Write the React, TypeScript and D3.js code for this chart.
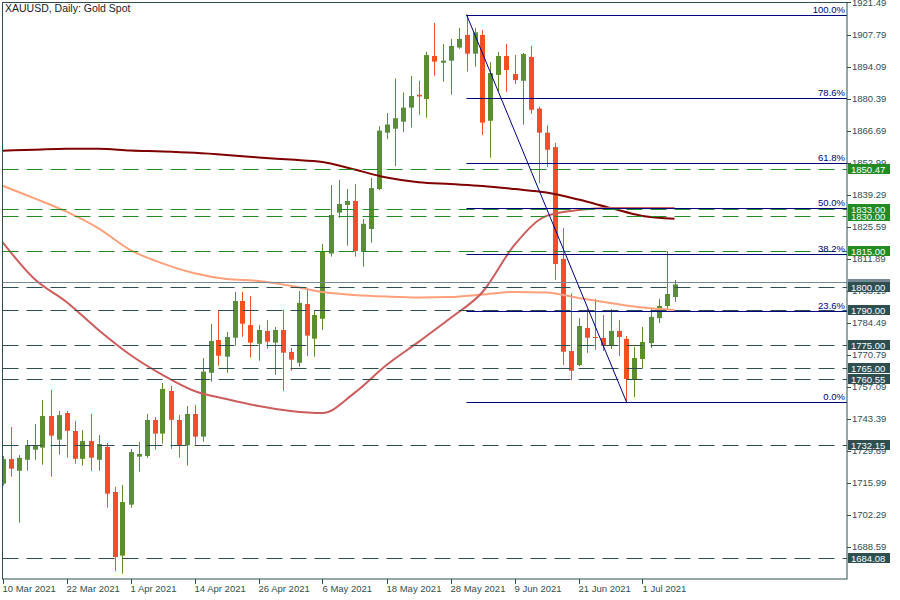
import React from "react";
import * as d3 from "d3";

const W = 900;
const H = 600;

// Date axis labels (bar index -> label)
const dateTickIdx = [0, 8, 16, 24, 32, 40, 48, 56, 64, 72, 80];
const dateTickLabels = [
  "10 Mar 2021", "22 Mar 2021", "1 Apr 2021", "14 Apr 2021", "26 Apr 2021",
  "6 May 2021", "18 May 2021", "28 May 2021", "9 Jun 2021", "21 Jun 2021", "1 Jul 2021",
];

// Daily OHLC, 10 Mar 2021 .. 7 Jul 2021
const opens = [
  1715.7, 1726.2, 1721.2, 1725.9, 1730.2, 1731.1, 1744.6, 1734.5, 1745.9, 1738.2,
  1726.3, 1733.9, 1725.9, 1731.4, 1712.1, 1684.9, 1706.7, 1727.2, 1727.5, 1742.9,
  1737.1, 1755.3, 1742.9, 1732.1, 1745.5, 1735.8, 1763.1, 1777.1, 1770.0, 1778.1,
  1793.8, 1783.5, 1775.5, 1781.0, 1776.0, 1781.4, 1772.0, 1767.4, 1792.5, 1777.7,
  1786.2, 1814.1, 1831.6, 1834.9, 1836.6, 1814.8, 1824.6, 1841.7, 1865.8, 1867.5,
  1870.5, 1876.5, 1882.0, 1880.2, 1898.6, 1895.7, 1896.6, 1902.2, 1907.6, 1899.6,
  1907.6, 1870.9, 1890.5, 1898.6, 1890.9, 1888.0, 1898.2, 1876.1, 1865.8, 1859.6,
  1811.8, 1772.4, 1766.4, 1782.3, 1778.4, 1778.0, 1774.6, 1781.0, 1777.6, 1760.4,
  1769.0, 1775.8, 1786.5, 1791.7, 1795.5,
];
const highs = [
  1727.5, 1739.9, 1727.9, 1734.4, 1741.2, 1751.5, 1755.7, 1746.8, 1746.8, 1742.5,
  1738.6, 1745.5, 1736.5, 1733.1, 1714.3, 1715.1, 1730.5, 1733.5, 1745.5, 1744.2,
  1758.7, 1757.5, 1745.0, 1748.9, 1749.3, 1769.4, 1784.0, 1790.0, 1780.5, 1797.7,
  1797.7, 1796.0, 1783.5, 1785.7, 1782.7, 1790.0, 1773.7, 1798.1, 1799.0, 1790.0,
  1818.2, 1843.4, 1845.6, 1841.7, 1843.9, 1828.9, 1846.4, 1868.6, 1874.2, 1889.0,
  1883.0, 1890.0, 1888.0, 1900.4, 1912.7, 1903.7, 1905.9, 1910.6, 1916.3, 1910.6,
  1909.7, 1896.0, 1900.3, 1903.7, 1899.0, 1899.9, 1902.9, 1876.9, 1868.8, 1861.4,
  1825.0, 1797.1, 1786.5, 1790.4, 1794.7, 1787.8, 1790.4, 1785.7, 1778.8, 1774.1,
  1782.7, 1790.4, 1794.7, 1815.2, 1802.8,
];
const lows = [
  1714.8, 1718.7, 1699.0, 1721.2, 1725.9, 1723.8, 1718.7, 1728.1, 1726.8, 1724.2,
  1723.4, 1721.2, 1721.2, 1705.4, 1678.3, 1677.2, 1705.4, 1720.8, 1726.7, 1730.2,
  1732.8, 1730.6, 1726.8, 1723.4, 1732.1, 1733.6, 1759.3, 1766.1, 1763.1, 1774.7,
  1778.5, 1769.6, 1768.3, 1773.4, 1762.3, 1755.4, 1764.0, 1765.7, 1770.3, 1770.0,
  1781.4, 1812.8, 1829.4, 1817.5, 1812.8, 1808.5, 1818.7, 1841.3, 1863.0, 1851.5,
  1866.0, 1868.0, 1873.5, 1872.2, 1890.2, 1887.6, 1882.0, 1901.7, 1891.9, 1894.0,
  1864.9, 1855.1, 1883.3, 1883.3, 1886.6, 1869.2, 1873.9, 1844.3, 1851.2, 1802.8,
  1766.4, 1760.0, 1766.0, 1771.6, 1772.9, 1772.4, 1773.3, 1770.3, 1750.6, 1752.7,
  1765.1, 1773.7, 1784.4, 1790.0, 1793.4,
];
const closes = [
  1726.2, 1722.1, 1726.7, 1732.2, 1732.2, 1744.6, 1736.2, 1745.0, 1738.3, 1726.3,
  1733.9, 1726.8, 1732.6, 1711.4, 1684.3, 1707.8, 1729.2, 1728.4, 1742.9, 1737.1,
  1756.2, 1743.0, 1732.1, 1745.5, 1735.8, 1763.6, 1776.7, 1770.4, 1778.4, 1793.8,
  1784.1, 1776.0, 1781.4, 1776.4, 1781.4, 1771.7, 1768.7, 1793.0, 1779.0, 1787.8,
  1815.2, 1830.6, 1835.3, 1836.6, 1815.2, 1826.8, 1842.1, 1866.7, 1869.3, 1872.0,
  1876.5, 1881.5, 1881.3, 1899.0, 1896.2, 1896.6, 1902.9, 1905.9, 1899.6, 1908.7,
  1870.1, 1891.3, 1898.6, 1892.6, 1888.3, 1899.4, 1875.6, 1865.8, 1858.5, 1809.6,
  1772.1, 1764.0, 1783.1, 1778.1, 1778.0, 1774.6, 1781.0, 1778.4, 1760.4, 1769.4,
  1776.3, 1787.0, 1791.7, 1796.8, 1800.9,
];

// Moving averages sampled every 4 bars
const maIdx = [0, 4, 8, 12, 16, 20, 24, 28, 32, 36, 40, 44, 48, 52, 56, 60, 64, 68, 72, 76, 80, 84];
const ma200 = [
  1858.1, 1858.5, 1858.95, 1858.95, 1858.2, 1857.8, 1857.2, 1856.3, 1855.2, 1854.3,
  1853.3, 1850.05, 1846.6, 1844.6, 1843.8, 1843.0, 1841.7, 1840.2, 1837.2, 1833.6, 1830.2, 1829.0,
];
const ma100 = [
  1843.1, 1837.7, 1832.0, 1824.9, 1815.6, 1809.9, 1805.65, 1803.2, 1802.4, 1800.35,
  1797.65, 1796.4, 1795.7, 1795.3, 1795.5, 1796.6, 1797.7, 1797.4, 1795.1, 1792.95, 1791.0, 1790.0,
];
const ma50 = [
  1819.0, 1803.2, 1793.4, 1781.4, 1770.7, 1762.2, 1755.3, 1751.9, 1748.9, 1746.8,
  1745.9, 1754.5, 1766.4, 1776.3, 1786.5, 1797.65, 1817.8, 1830.2, 1832.7, 1833.6, 1833.6, 1833.6,
];

// Right price axis
const priceTicks = [
  1921.49, 1907.79, 1894.09, 1880.39, 1866.69, 1852.99, 1839.29, 1825.59, 1811.89,
  1798.19, 1784.49, 1770.79, 1757.09, 1743.39, 1729.69, 1715.99, 1702.29, 1688.59,
];

// Horizontal levels
const greenLevels = [1850.47, 1830.0, 1833.0, 1815.0];
const darkLevels = [1800.0, 1790.0, 1775.0, 1765.0, 1760.55, 1732.15, 1684.08];

// Fibonacci retracement
const fibHigh = 1916.3;
const fibLow = 1750.6;
const fibHighIdx = 58;
const fibLowIdx = 78;
const fibRatios = [1, 0.786, 0.618, 0.5, 0.382, 0.236, 0];
const fibLabels = ["100.0%", "78.6%", "61.8%", "50.0%", "38.2%", "23.6%", "0.0%"];

const AX = "#2f4f4f";
const GREEN = "#228b22";
const NAVY = "#000080";
const UP = "#5b8f2d";
const DOWN = "#f44e24";
const FONT = "'Liberation Sans', Arial, sans-serif";

const L = 2.5, R = 847, T = 2.5, B = 579;

export default function App() {
  const x = d3.scaleLinear().domain([0, 105.5]).range([2.5, 846.5]);
  const y = d3.scaleLinear().domain([1674.9, 1922.55]).range([B, 0]);
  const py = (v: number) => Math.round(y(v)) + 0.5;

  const maLine = d3
    .line<number>()
    .x((_, i) => x(maIdx[i]))
    .y((d) => y(d))
    .curve(d3.curveMonotoneX);

  const lastClose = closes[closes.length - 1];
  const fibX0 = x(fibHighIdx);

  const box = (v: number, color: string, key: string, label?: string) => {
    const cy = y(v);
    return (
      <g key={key}>
        <rect x={848} y={Math.round(cy) - 5} width={42} height={10} fill={color} />
        <text x={851} y={Math.round(cy) + 3.5} fontSize={9.5} fill="#fff" fontFamily={FONT}>
          {label ?? v.toFixed(2)}
        </text>
      </g>
    );
  };

  return (
    <svg
      width={W}
      height={H}
      style={{ position: "absolute", left: 0, top: 0, background: "#fff" }}
    >
      <defs>
        <clipPath id="plot">
          <rect x={L} y={T} width={R - L} height={B - T} />
        </clipPath>
      </defs>
      <rect x={0} y={0} width={W} height={H} fill="#fff" />

      {/* price ticks */}
      {priceTicks.map((t) => (
        <g key={"pt" + t}>
          <line x1={R} x2={R + 4} y1={py(t)} y2={py(t)} stroke={AX} />
          <text x={852} y={y(t) + 3.5} fontSize={9.5} fill={AX} fontFamily={FONT}>
            {t.toFixed(2)}
          </text>
        </g>
      ))}

      {/* date ticks */}
      {dateTickIdx.map((d, i) => (
        <g key={"dt" + d}>
          <line x1={Math.round(x(d)) + 0.5} x2={Math.round(x(d)) + 0.5} y1={B} y2={B + 5} stroke={AX} />
          <text x={x(d)} y={592} fontSize={9.5} fill={AX} fontFamily={FONT}>
            {dateTickLabels[i]}
          </text>
        </g>
      ))}

      <g clipPath="url(#plot)">
        {/* candles */}
        {opens.map((o, i) => {
          const c = closes[i];
          const up = c >= o;
          const col = up ? UP : DOWN;
          const cx = Math.round(x(i));
          const top = y(Math.max(o, c));
          const bot = y(Math.min(o, c));
          return (
            <g key={"c" + i}>
              <line
                x1={cx + 0.5}
                x2={cx + 0.5}
                y1={y(highs[i])}
                y2={y(lows[i])}
                stroke={col}
                strokeWidth={1}
              />
              <rect x={cx - 2} y={top} width={5} height={Math.max(1, bot - top)} fill={col} />
            </g>
          );
        })}

        {/* moving averages */}
        <path d={maLine(ma200) || ""} fill="none" stroke="#800000" strokeWidth={2} />
        <path d={maLine(ma100) || ""} fill="none" stroke="#ffa07a" strokeWidth={2} />
        <path d={maLine(ma50) || ""} fill="none" stroke="#cd5c5c" strokeWidth={2} />

        {/* current price line */}
        <line x1={L} x2={R} y1={py(lastClose) - 2} y2={py(lastClose) - 2} stroke="#778899" />

        {/* horizontal levels */}
        {greenLevels.map((v) => (
          <line key={"gl" + v} x1={L} x2={R} y1={py(v)} y2={py(v)} stroke={GREEN} strokeDasharray="16,8" />
        ))}
        {darkLevels.map((v) => (
          <line key={"dl" + v} x1={L} x2={R} y1={py(v)} y2={py(v)} stroke={AX} strokeDasharray="16,8" />
        ))}

        {/* fibonacci */}
        <line x1={fibX0} y1={y(fibHigh)} x2={x(fibLowIdx)} y2={y(fibLow)} stroke={NAVY} strokeWidth={1} />
        {fibRatios.map((r, i) => {
          const v = fibLow + (fibHigh - fibLow) * r;
          return (
            <g key={"fib" + r}>
              <line x1={fibX0} x2={R} y1={py(v)} y2={py(v)} stroke={NAVY} />
              <text
                x={845}
                y={py(v) - 3}
                fontSize={9.5}
                textAnchor="end"
                fill={NAVY}
                fontFamily={FONT}
              >
                {fibLabels[i]}
              </text>
            </g>
          );
        })}
      </g>

      {/* frame */}
      <rect x={L} y={T} width={R - L} height={B - T} fill="none" stroke={AX} />

      {/* value boxes */}
      {box(lastClose, "#778899", "cur")}
      {greenLevels.map((v) => box(v, GREEN, "gb" + v))}
      {darkLevels.map((v) => box(v, AX, "db" + v))}

      <text x={5} y={12} fontSize={10.5} fill="#222" fontFamily={FONT}>
        XAUUSD, Daily:  Gold Spot
      </text>
    </svg>
  );
}
